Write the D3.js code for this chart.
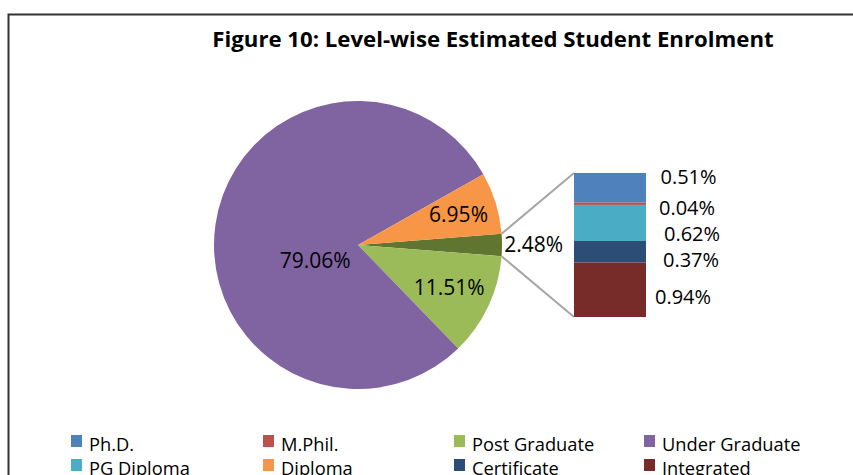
<!DOCTYPE html>
<html>
<head>
<meta charset="utf-8">
<script src="https://cdn.jsdelivr.net/npm/d3@7"></script>
<style>
  body { margin: 0; background: #fff; }
  text { font-family: "Open Sans", sans-serif; }
</style>
</head>
<body>
<script>
var w = 853;
var h = 475;

// main pie: the small levels are grouped into "Other" and split out in the bar
var pieNames = ['Other', 'Post Graduate', 'Under Graduate', 'Diploma'];
var pieValues = [2.48, 11.51, 79.06, 6.95];
var pieColors = ['#607530', '#9BBB59', '#8064A2', '#F79646'];

// the stacked bar, top to bottom
var barNames = ['Ph.D.', 'M.Phil.', 'PG Diploma', 'Certificate', 'Integrated'];
var barValues = [0.51, 0.04, 0.62, 0.37, 0.94];
var barColors = ['#4F81BD', '#C0504D', '#4BACC6', '#2C4D75', '#772C2A'];

// legend order as in the chart
var legendNames = ['Ph.D.', 'M.Phil.', 'Post Graduate', 'Under Graduate',
   'PG Diploma', 'Diploma', 'Certificate', 'Integrated'];
var legendColors = ['#4F81BD', '#C0504D', '#9BBB59', '#8064A2',
   '#4BACC6', '#F79646', '#2C4D75', '#772C2A'];

var cx = 358, cy = 245, r = 144;

var svg = d3.select('body')
   .append('svg')
   .attr('width', w)
   .attr('height', h);

// chart frame (right and bottom run off the picture)
svg.append('rect')
   .attr('x', 8.5).attr('y', 14.5)
   .attr('width', 900).attr('height', 500)
   .attr('fill', 'none')
   .attr('stroke', '#333')
   .attr('stroke-width', 2);

svg.append('text')
   .attr('x', 493)
   .attr('y', 47)
   .attr('text-anchor', 'middle')
   .attr('font-size', '22.2px')
   .attr('font-weight', 'bold')
   .attr('fill', '#000')
   .text('Figure 10: Level-wise Estimated Student Enrolment');

var otherAngle = pieValues[0] / d3.sum(pieValues) * 2 * Math.PI;
var pie = d3.pie()
   .sort(null)
   .startAngle(Math.PI / 2 - otherAngle / 2)
   .endAngle(Math.PI / 2 - otherAngle / 2 + 2 * Math.PI);
var arcs = pie(pieValues);
var arc = d3.arc().innerRadius(0).outerRadius(r);

var g = svg.append('g').attr('transform', 'translate(' + cx + ',' + cy + ')');
g.selectAll('path')
   .data(arcs)
   .enter()
   .append('path')
   .attr('d', arc)
   .attr('fill', function(d, i) { return pieColors[i]; });

// label placement: radius fraction and a small vertical nudge per slice
var labelRadius = [1.22, 0.7, 0.3, 0.73];
var labelDy = [0, 0, 22, 0];
g.selectAll('text')
   .data(arcs)
   .enter()
   .append('text')
   .attr('transform', function(d, i) {
      var a = (d.startAngle + d.endAngle) / 2;
      var rr = r * labelRadius[i];
      return 'translate(' + (Math.sin(a) * rr) + ',' + (-Math.cos(a) * rr + labelDy[i]) + ')';
   })
   .attr('text-anchor', 'middle')
   .attr('dy', '0.35em')
   .attr('font-size', '21px')
   .attr('fill', '#000')
   .text(function(d) { return d.value.toFixed(2) + '%'; });

// stacked bar
var barX = 574, barW = 72, barTop = 173, barBottom = 317;
var y = d3.scaleLinear()
   .domain([0, d3.sum(barValues)])
   .range([barTop, barBottom]);
var stackStart = barValues.map(function(v, i) {
   return d3.sum(barValues.slice(0, i));
});

// connector lines from the "Other" slice to the bar
var oa0 = arcs[0].startAngle, oa1 = arcs[0].endAngle;
svg.append('line')
   .attr('x1', cx + Math.sin(oa0) * r).attr('y1', cy - Math.cos(oa0) * r)
   .attr('x2', barX).attr('y2', y(0))
   .attr('stroke', '#A6A6A6').attr('stroke-width', 2);
svg.append('line')
   .attr('x1', cx + Math.sin(oa1) * r).attr('y1', cy - Math.cos(oa1) * r)
   .attr('x2', barX).attr('y2', y(d3.sum(barValues)))
   .attr('stroke', '#A6A6A6').attr('stroke-width', 2);

svg.selectAll('rect.seg')
   .data(barValues)
   .enter()
   .append('rect')
   .attr('class', 'seg')
   .attr('x', barX)
   .attr('y', function(d, i) { return y(stackStart[i]); })
   .attr('width', barW)
   .attr('height', function(d, i) { return y(stackStart[i] + d) - y(stackStart[i]); })
   .attr('fill', function(d, i) { return barColors[i]; });

var barLabelDx = [-0.5, -2, 3, 2, -6];
var barLabelDy = [-11, 4, 11, 8, 7];
svg.selectAll('text.seg')
   .data(barValues)
   .enter()
   .append('text')
   .attr('class', 'seg')
   .attr('x', function(d, i) { return barX + barW + 43 + barLabelDx[i]; })
   .attr('y', function(d, i) { return y(stackStart[i] + d / 2) + barLabelDy[i]; })
   .attr('dy', '0.35em')
   .attr('text-anchor', 'middle')
   .attr('font-size', '20px')
   .attr('fill', '#000')
   .text(function(d) { return d.toFixed(2) + '%'; });

// legend, 4 columns x 2 rows
var legX = [71, 263, 454, 644];
var leg = svg.selectAll('g.leg')
   .data(legendNames)
   .enter()
   .append('g')
   .attr('class', 'leg')
   .attr('transform', function(d, i) {
      return 'translate(' + legX[i % 4] + ',' + (435 + Math.floor(i / 4) * 24) + ')';
   });
leg.append('rect')
   .attr('width', 11)
   .attr('height', 12)
   .attr('fill', function(d, i) { return legendColors[i]; });
leg.append('text')
   .attr('x', 18)
   .attr('y', 16)
   .attr('font-size', '18.3px')
   .attr('fill', '#000')
   .text(function(d) { return d; });
</script>
</body>
</html>
